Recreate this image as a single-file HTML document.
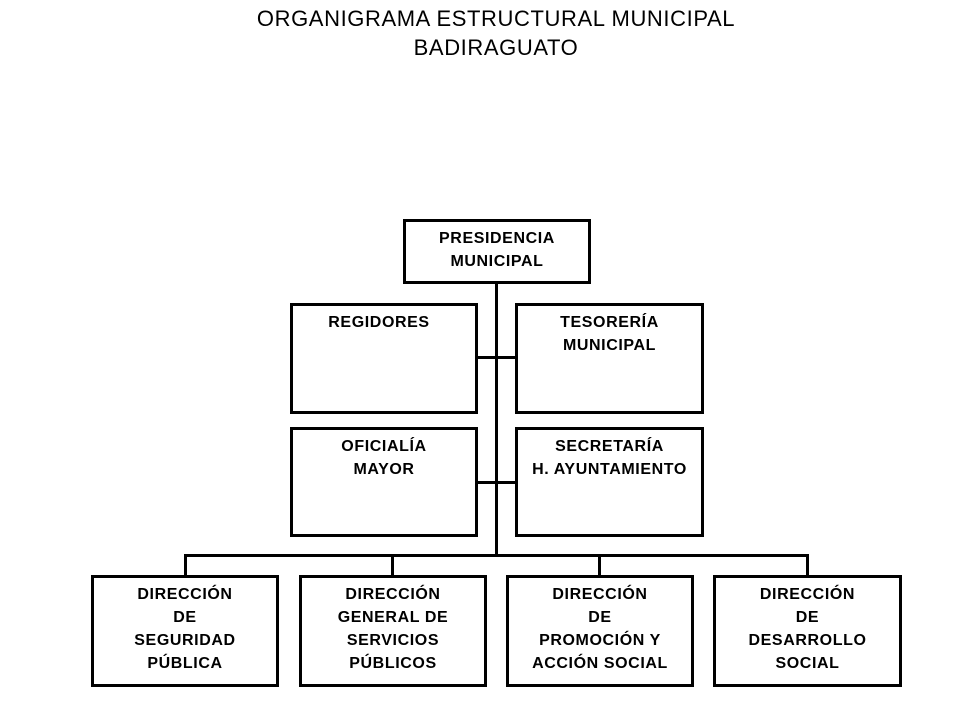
<!DOCTYPE html>
<html><head><meta charset="utf-8"><style>
body{margin:0;width:959px;height:719px;background:#fff;position:relative;overflow:hidden;font-family:"Liberation Sans",Arial,sans-serif;}
.t{position:absolute;left:0;width:992px;text-align:center;font-size:22px;letter-spacing:0.6px;color:#000;}
.b{position:absolute;border:3px solid #000;box-sizing:border-box;background:#fff;text-align:center;font-weight:bold;font-size:16px;letter-spacing:0.6px;line-height:23px;padding-top:5px;}
.l{position:absolute;background:#000;}
</style></head><body>
<div class="t" style="top:6px">ORGANIGRAMA ESTRUCTURAL MUNICIPAL</div>
<div class="t" style="top:35px">BADIRAGUATO</div>

<div class="l" style="left:495px;top:282px;width:3px;height:275px"></div>
<div class="l" style="left:476px;top:356px;width:40px;height:3px"></div>
<div class="l" style="left:476px;top:481px;width:40px;height:3px"></div>
<div class="l" style="left:184px;top:554px;width:625px;height:3px"></div>
<div class="l" style="left:184px;top:554px;width:3px;height:23px"></div>
<div class="l" style="left:391px;top:554px;width:3px;height:23px"></div>
<div class="l" style="left:598px;top:554px;width:3px;height:23px"></div>
<div class="l" style="left:806px;top:554px;width:3px;height:23px"></div>

<div class="b" style="left:403px;top:219px;width:188px;height:65px">PRESIDENCIA<br>MUNICIPAL</div>
<div class="b" style="left:290px;top:303px;width:188px;height:111px"><span style="margin-left:-10px">REGIDORES</span></div>
<div class="b" style="left:515px;top:303px;width:189px;height:111px">TESORERÍA<br>MUNICIPAL</div>
<div class="b" style="left:290px;top:427px;width:188px;height:110px">OFICIALÍA<br>MAYOR</div>
<div class="b" style="left:515px;top:427px;width:189px;height:110px">SECRETARÍA<br>H. AYUNTAMIENTO</div>

<div class="b" style="left:91px;top:575px;width:188px;height:112px">DIRECCIÓN<br>DE<br>SEGURIDAD<br>PÚBLICA</div>
<div class="b" style="left:299px;top:575px;width:188px;height:112px">DIRECCIÓN<br>GENERAL DE<br>SERVICIOS<br>PÚBLICOS</div>
<div class="b" style="left:506px;top:575px;width:188px;height:112px">DIRECCIÓN<br>DE<br>PROMOCIÓN Y<br>ACCIÓN SOCIAL</div>
<div class="b" style="left:713px;top:575px;width:189px;height:112px">DIRECCIÓN<br>DE<br>DESARROLLO<br>SOCIAL</div>
</body></html>
